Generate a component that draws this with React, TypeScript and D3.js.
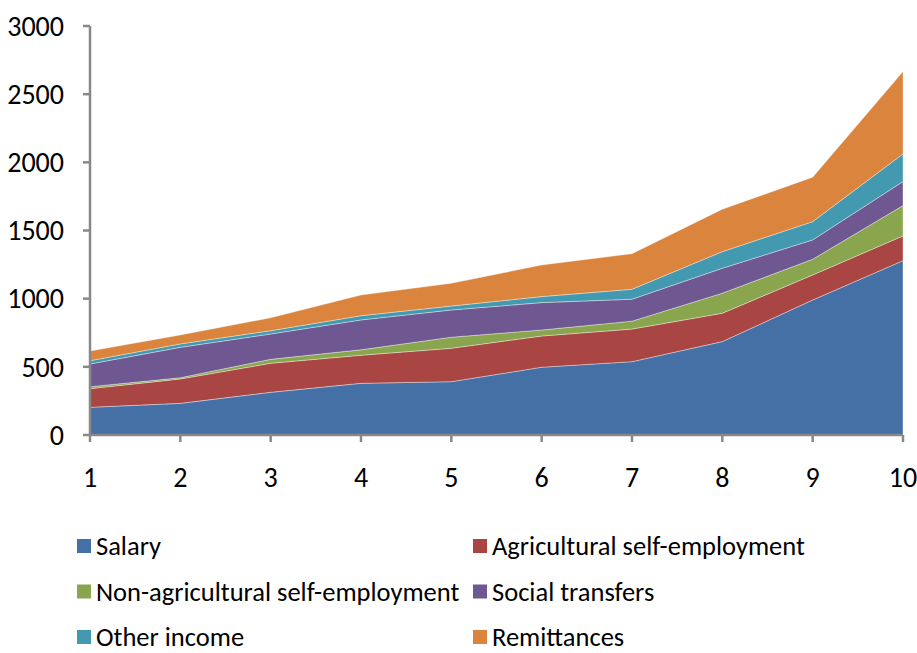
import { useEffect, useRef } from "react"
import * as d3 from "d3"

const deciles = [1, 2, 3, 4, 5, 6, 7, 8, 9, 10]
const seriesNames = [
  "Salary",
  "Agricultural self-employment",
  "Non-agricultural self-employment",
  "Social transfers",
  "Other income",
  "Remittances",
]
const seriesColors = ["#4570a6", "#a94543", "#89a64e", "#6f5891", "#4299b0", "#db843d"]

const salary = [203, 232, 313, 379, 391, 497, 538, 685, 990, 1279]
const agricultural = [137, 179, 213, 206, 245, 229, 239, 208, 184, 181]
const nonAgricultural = [14, 9, 29, 40, 81, 44, 58, 147, 115, 223]
const socialTransfers = [167, 223, 186, 219, 200, 201, 161, 183, 142, 176]
const otherIncome = [24, 25, 24, 31, 29, 44, 73, 122, 134, 203]
const remittances = [71, 66, 95, 152, 167, 232, 261, 311, 326, 604]

const yTicks = [0, 500, 1000, 1500, 2000, 2500, 3000]

const W = 917
const H = 653

export default function App() {
  const svgRef = useRef<SVGSVGElement>(null)

  useEffect(() => {
    if (!svgRef.current) return
    const svg = d3.select(svgRef.current)
    svg.selectAll("*").remove()

    const left = 90
    const right = 903
    const top = 26
    const bottom = 435
    const font = "Carlito, 'Open Sans', 'Liberation Sans', sans-serif"

    const cols = [salary, agricultural, nonAgricultural, socialTransfers, otherIncome, remittances]
    const rows = deciles.map((d, i) => {
      const r: any = { decile: d }
      seriesNames.forEach((s, j) => (r[s] = cols[j][i]))
      return r
    })

    const x = d3.scaleLinear().domain([1, 10]).range([left, right])
    const y = d3.scaleLinear().domain([0, 3000]).range([bottom, top])

    const stacked = d3.stack<any>().keys(seriesNames)(rows)

    const area = d3
      .area<any>()
      .x((d) => x(d.data.decile))
      .y0((d) => y(d[0]))
      .y1((d) => y(d[1]))

    svg
      .append("g")
      .selectAll("path")
      .data(stacked)
      .enter()
      .append("path")
      .attr("d", area)
      .attr("fill", (_, i) => seriesColors[i])
      .attr("stroke", "#ffffff")
      .attr("stroke-opacity", 0.45)
      .attr("stroke-width", 0.8)

    const axisColor = "#888888"

    // y axis
    const yAxis = svg.append("g").attr("transform", `translate(${left},0)`)
    yAxis
      .append("line")
      .attr("x1", 0)
      .attr("x2", 0)
      .attr("y1", y(3000))
      .attr("y2", y(0))
      .attr("stroke", axisColor)
      .attr("stroke-width", 2.5)
    yTicks.forEach((t) => {
      yAxis
        .append("line")
        .attr("x1", -7)
        .attr("x2", 0)
        .attr("y1", y(t))
        .attr("y2", y(t))
        .attr("stroke", axisColor)
        .attr("stroke-width", 2.5)
      yAxis
        .append("text")
        .attr("x", -26)
        .attr("y", y(t))
        .attr("dy", "0.35em")
        .attr("text-anchor", "end")
        .attr("font-family", font)
        .attr("font-size", 28)
        .attr("fill", "#000")
        .text(t)
    })

    // x axis
    const xAxis = svg.append("g").attr("transform", `translate(0,${bottom})`)
    xAxis
      .append("line")
      .attr("x1", left)
      .attr("x2", right)
      .attr("stroke", axisColor)
      .attr("stroke-width", 2.5)
    deciles.forEach((d) => {
      xAxis
        .append("line")
        .attr("x1", x(d))
        .attr("x2", x(d))
        .attr("y1", 0)
        .attr("y2", 7)
        .attr("stroke", axisColor)
        .attr("stroke-width", 2.5)
      xAxis
        .append("text")
        .attr("x", x(d))
        .attr("y", 42)
        .attr("dy", "0.35em")
        .attr("text-anchor", "middle")
        .attr("font-family", font)
        .attr("font-size", 28)
        .attr("fill", "#000")
        .text(d)
    })

    // legend (last row nudged up so its text stays inside the frame)
    const legend = svg.append("g")
    seriesNames.forEach((s, i) => {
      const cx = i % 2 === 0 ? 77 : 473
      const cy = 546 + Math.floor(i / 2) * 45.5
      legend
        .append("rect")
        .attr("x", cx)
        .attr("y", cy - 7)
        .attr("width", 14)
        .attr("height", 14)
        .attr("fill", seriesColors[i])
      legend
        .append("text")
        .attr("x", cx + 19)
        .attr("y", cy)
        .attr("dy", "0.35em")
        .attr("font-family", font)
        .attr("font-size", 26.5)
        .attr("fill", "#000")
        .text(s)
    })
  }, [])

  return (
    <svg
      ref={svgRef}
      width={W}
      height={H}
      style={{ position: "absolute", left: 0, top: 0, background: "#fff" }}
    />
  )
}
